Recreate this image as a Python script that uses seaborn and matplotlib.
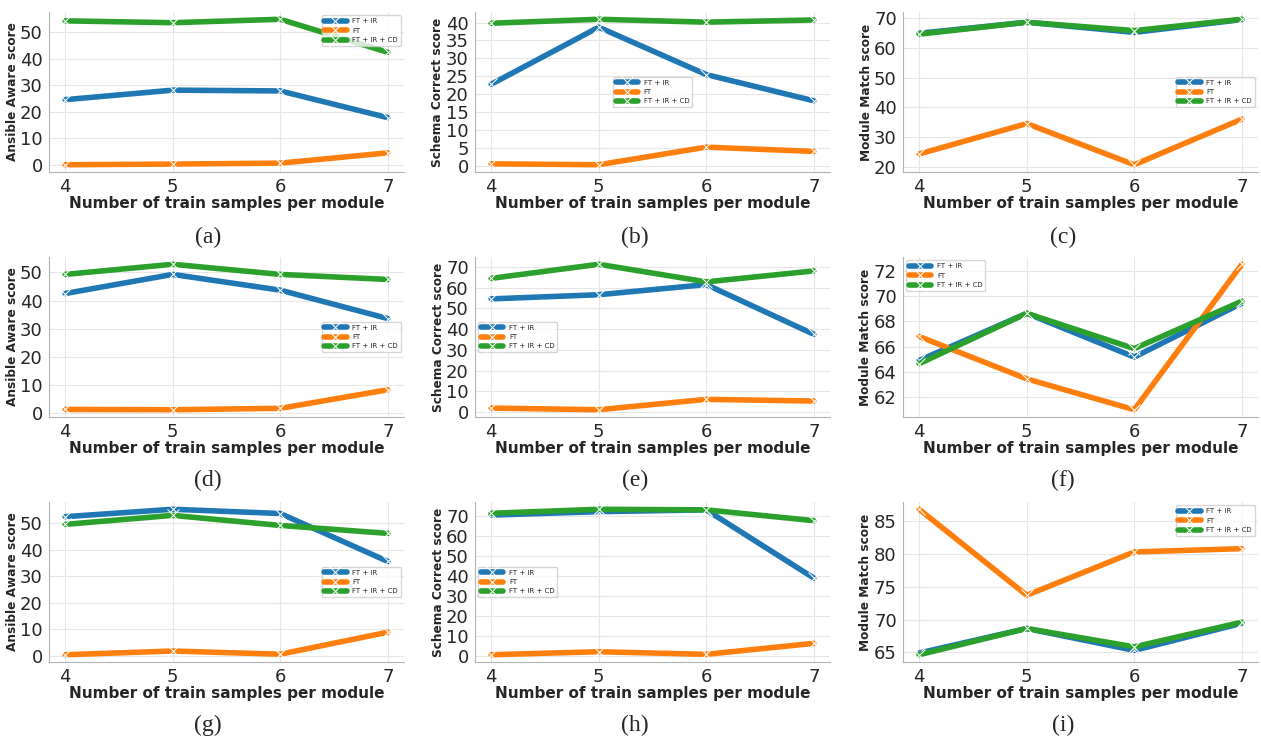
import numpy as np
import pandas as pd
import seaborn as sns
import matplotlib.pyplot as plt
from matplotlib.ticker import MultipleLocator

samples = [4, 5, 6, 7]
methods = ['FT + IR', 'FT', 'FT + IR + CD']

# values per panel, in the order of methods: FT + IR, FT, FT + IR + CD
aware_a = [[24.6, 28.2, 27.9, 17.8], [0.0, 0.25, 0.6, 4.5], [54.4, 53.7, 55.0, 42.5]]
schema_b = [[22.8, 38.7, 25.5, 18.2], [0.65, 0.4, 5.3, 4.1], [39.8, 40.9, 40.1, 40.7]]
match_c = [[64.9, 68.6, 65.2, 69.5], [24.4, 34.6, 20.8, 36.1], [64.6, 68.6, 65.8, 69.6]]
aware_d = [[42.5, 49.3, 43.7, 33.6], [1.3, 1.2, 1.7, 8.3], [49.3, 52.9, 49.3, 47.5]]
schema_e = [[54.6, 56.6, 61.5, 37.5], [1.9, 1.1, 6.1, 5.3], [64.5, 71.3, 62.8, 68.1]]
match_f = [[64.9, 68.64, 65.17, 69.44], [66.8, 63.44, 60.99, 72.53], [64.64, 68.64, 65.84, 69.6]]
aware_g = [[52.5, 55.3, 53.7, 35.6], [0.4, 1.8, 0.6, 8.9], [49.6, 53.0, 49.2, 46.2]]
schema_h = [[70.3, 72.0, 72.9, 38.8], [0.5, 2.0, 0.7, 6.2], [71.2, 73.2, 72.9, 67.5]]
match_i = [[64.9, 68.64, 65.3, 69.44], [86.8, 73.7, 80.3, 80.8], [64.64, 68.64, 65.84, 69.6]]

# (values, y label, y tick step, legend location, caption)
panels = [
    (aware_a, 'Ansible Aware score', 10, 'upper right', '(a)'),
    (schema_b, 'Schema Correct score', 5, 'center', '(b)'),
    (match_c, 'Module Match score', 10, 'center right', '(c)'),
    (aware_d, 'Ansible Aware score', 10, 'center right', '(d)'),
    (schema_e, 'Schema Correct score', 10, 'center left', '(e)'),
    (match_f, 'Module Match score', 2, 'upper left', '(f)'),
    (aware_g, 'Ansible Aware score', 10, 'center right', '(g)'),
    (schema_h, 'Schema Correct score', 10, 'center left', '(h)'),
    (match_i, 'Module Match score', 5, 'upper right', '(i)'),
]

W, H = 1261, 742
col_left = [49, 475, 903]
row_top = [12, 257, 502]
cap_x = [208, 635, 1063]
cap_y = [237, 480, 725]
aw, ah = 355, 160

sns.set_style('whitegrid', {'grid.color': '.9', 'axes.edgecolor': '.7'})
fig = plt.figure(figsize=(W / 100, H / 100), dpi=100)

for i, (vals, ylabel, step, loc, cap) in enumerate(panels):
    r, c = divmod(i, 3)
    ax = fig.add_axes([col_left[c] / W, 1 - (row_top[r] + ah) / H, aw / W, ah / H])
    df = pd.DataFrame({
        'samples': samples * 3,
        'score': sum(vals, []),
        'method': [m for m in methods for _ in samples],
    })
    sns.lineplot(data=df, x='samples', y='score', hue='method', hue_order=methods,
                 marker='x', markersize=9, linewidth=4, ax=ax)
    sns.despine(ax=ax)
    ax.set_xticks(samples)
    ax.yaxis.set_major_locator(MultipleLocator(step))
    ax.tick_params(labelsize=13, pad=1)
    ax.set_xlabel('Number of train samples per module', fontsize=11, fontweight='bold', labelpad=0)
    ax.set_ylabel(ylabel, fontsize=8.7, fontweight='bold', labelpad=1)
    handles, labels = ax.get_legend_handles_labels()
    ax.legend(handles, labels, loc=loc, fontsize=5, handlelength=3.2, frameon=True)
    fig.text(cap_x[c] / W, 1 - cap_y[r] / H, cap, family='Liberation Serif', fontsize=17,
             ha='center', va='center')

fig.savefig('out.png', dpi=100)
